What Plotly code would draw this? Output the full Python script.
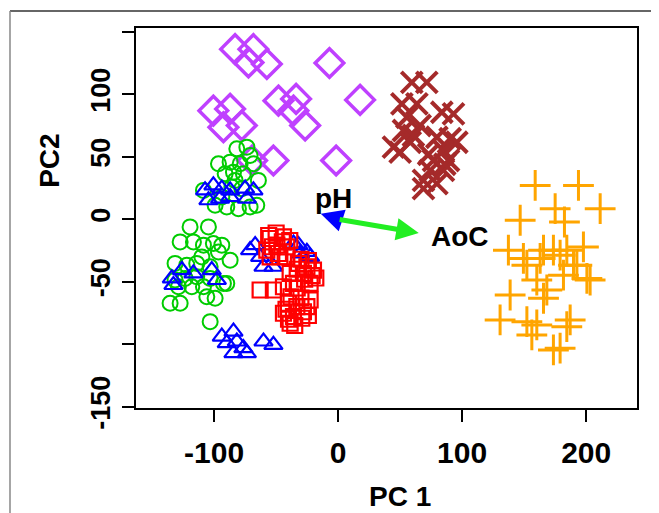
import plotly.graph_objects as go

# ---- data (PC1, PC2 scores per group) ----
purple_x = [-83.1, -68.3, -72.3, -57.5, -7.0, 17.7, -48.1, -33.9, -36.0, -26.6, -100.6, -87.1, -92.5, -77.7, -52.2, -1.6, -69.4]
purple_y = [136.1, 136.1, 125.4, 124.2, 125.0, 95.5, 94.9, 96.3, 86.9, 75.0, 86.9, 88.3, 73.6, 75.0, 47.0, 47.0, 47.0]

brown_x = [59.4, 71.5, 51.4, 63.5, 83.6, 93.0, 55.4, 66.1, 52.7, 79.6, 90.3, 44.6, 58.1, 50.0, 84.9, 76.9, 89.0, 74.2, 84.9, 68.8, 79.6, 68.8, 95.7, 60.7, 73.0, 86.0]
brown_y = [109.5, 109.5, 92.3, 92.3, 85.6, 84.3, 81.6, 75.0, 71.0, 65.6, 64.4, 57.7, 61.6, 53.7, 55.0, 47.0, 47.0, 39.1, 39.1, 31.1, 28.5, 24.5, 61.6, 67.0, 52.0, 44.0]

orange_x = [158.9, 193.8, 175.0, 211.3, 146.8, 182.5, 137.3, 149.4, 165.6, 173.6, 179.0, 184.4, 197.8, 189.8, 200.6, 203.2, 181.7, 152.2, 160.2, 168.3, 165.6, 138.7, 130.6, 152.2, 160.2, 156.2, 187.1, 184.4, 173.6, 179.0, 192.5, 162.9]
orange_y = [27.1, 27.1, 8.5, 8.5, -0.8, -2.2, -24.7, -31.3, -24.7, -24.7, -28.7, -24.7, -22.1, -36.7, -47.3, -48.6, -44.7, -36.7, -48.6, -56.6, -63.2, -60.6, -80.5, -81.9, -84.5, -92.5, -80.5, -85.9, -104.5, -103.1, -36.7, -31.3]

green_x = [-96.5, -87.1, -81.7, -73.6, -71.0, -79.0, -91.1, -84.4, -76.4, -68.3, -64.3, -85.7, -77.7, -108.6, -99.2, -89.8, -80.4, -71.0, -65.6, -93.8, -83.1,
           -119.4, -104.6, -127.4, -116.7, -108.6, -100.6, -93.8, -96.5, -109.9, -87.1, -131.5, -122.0, -114.0, -103.2, -131.5, -123.4, -114.0, -103.2, -92.5,
           -128.8, -118.0, -108.6, -135.5, -127.4, -105.9, -99.2, -103.2, -89.8]
green_y = [44.4, 45.7, 56.4, 57.7, 51.0, 44.4, 36.4, 37.7, 36.4, 44.4, 31.1, 25.8, 24.5, 23.1, 11.2, 9.8, 8.5, 9.8, 11.2, 17.8, 31.1,
           -6.1, -6.1, -18.1, -18.1, -20.7, -19.4, -20.7, -26.1, -30.1, -32.7, -35.3, -36.7, -35.3, -38.0, -48.6, -47.3, -46.0, -47.3, -51.3,
           -54.0, -54.0, -54.0, -67.2, -67.2, -62.0, -63.2, -81.9, -51.3]

blue_x = [-107.3, -100.6, -93.8, -87.1, -75.0, -68.3, -104.6, -95.2, -73.6, -87.1,
          -134.1, -126.0, -116.7, -101.9, -97.8, -132.8,
          -93.8, -84.4, -89.8, -81.7, -76.4, -84.4, -73.6, -60.2, -52.2,
          -71.0, -66.9, -62.9, -32.0, -25.2, -22.6, -60.2, -52.2, -36.0, -30.6]
blue_y = [23.1, 27.1, 24.5, 23.1, 24.5, 23.1, 15.2, 16.5, 16.5, 17.8,
          -47.3, -40.7, -43.3, -40.7, -48.6, -52.6,
          -93.9, -89.9, -99.1, -97.8, -103.1, -107.1, -107.1, -97.8, -100.5,
          -24.7, -20.7, -30.1, -20.7, -26.1, -30.1, -38.0, -38.0, -19.4, -27.4]

red_x = [-54.8, -44.1, -49.4, -41.4, -57.5, -48.1, -54.8, -41.4, -32.0, -25.2, -38.7, -28.0, -19.9, -36.0, -22.6, -62.9, -52.2, -44.1, -40.1, -33.3, -25.2, -44.1, -36.0, -29.3, -38.7, -22.6,
         -56.0, -50.0, -45.0, -53.0, -39.0, -47.0, -30.0, -24.0, -33.0, -21.0, -27.0, -33.0, -18.0, -38.0, -30.0, -42.0, -28.0, -35.0, -24.0, -40.0]
red_y = [-15.4, -14.1, -20.7, -22.1, -24.7, -27.4, -30.1, -30.1, -35.3, -38.0, -43.3, -43.3, -40.7, -51.3, -51.3, -56.6, -56.6, -54.0, -67.2, -69.9, -69.9, -75.2, -77.9, -79.2, -83.2, -64.6,
         -13.0, -11.0, -18.0, -22.0, -17.0, -30.0, -32.0, -33.0, -40.0, -45.0, -48.0, -55.0, -47.0, -62.0, -63.0, -72.0, -74.0, -85.0, -77.0, -80.0]

# loadings arrows
arrow_names = ["pH", "AoC"]
arrow_x = [-14.0, 65.0]
arrow_y = [4.5, -11.0]
arrow_label_x = [-4.0, 98.0]
arrow_label_y = [17.0, -14.0]
arrow_colors = ["#0000FF", "#22EE22"]

x_ticks = [-100, 0, 100, 200]
y_ticks = [-150, -100, -50, 0, 50, 100, 150]
y_ticktext = ["-150", "", "-50", "0", "50", "100", ""]

FONT = "Liberation Sans, Arial, sans-serif"

fig = go.Figure()

def add(xs, ys, symbol, color, size, lw):
    fig.add_trace(go.Scatter(
        x=xs, y=ys, mode="markers",
        marker=dict(symbol=symbol, size=size, color=color,
                    line=dict(color=color, width=lw)),
        showlegend=False, hoverinfo="skip"))

add(purple_x, purple_y, "diamond-open", "#BF40FF", 22, 3.5)
add(brown_x, brown_y, "x-thin-open", "#A52A2A", 21, 4)
add(orange_x, orange_y, "cross-thin-open", "#FFA500", 22, 3)
add(green_x, green_y, "circle-open", "#00CC00", 15, 2)
add(blue_x, blue_y, "triangle-up-open", "#0000FF", 16, 2.2)
add(red_x, red_y, "square-open", "#FF0000", 15, 2.2)

for name, ax_, ay_, lx, ly, c in zip(arrow_names, arrow_x, arrow_y, arrow_label_x, arrow_label_y, arrow_colors):
    fig.add_annotation(x=ax_, y=ay_, ax=0, ay=0, xref="x", yref="y", axref="x", ayref="y",
                       showarrow=True, arrowhead=2, arrowsize=0.9, arrowwidth=5, arrowcolor=c, text="")
    fig.add_annotation(x=lx, y=ly, xref="x", yref="y", text=name, showarrow=False,
                       font=dict(family=FONT, size=28, color="black", weight="bold"))

fig.add_annotation(x=0.527, y=-0.234, xref="paper", yref="paper", text="PC 1", showarrow=False,
                   xanchor="center", yanchor="middle",
                   font=dict(family=FONT, size=28, color="black", weight="bold"))
fig.add_annotation(x=-0.174, y=0.65, xref="paper", yref="paper", text="PC2", showarrow=False, textangle=-90,
                   xanchor="center", yanchor="middle",
                   font=dict(family=FONT, size=28, color="black", weight="bold"))

# outer frame
fig.add_shape(type="line", xref="paper", yref="paper", x0=-0.2515, x1=1.06, y0=1.0447, y1=1.0447,
              line=dict(color="#333333", width=1.5))
fig.add_shape(type="line", xref="paper", yref="paper", x0=-0.2515, x1=-0.2515, y0=1.0447, y1=-0.3,
              line=dict(color="#888888", width=1.5))

axis_common = dict(showgrid=False, zeroline=False, showline=True, linecolor="black", linewidth=2,
                   mirror=True, ticks="outside", ticklen=12, tickwidth=2, tickcolor="black")

fig.update_xaxes(range=[-163, 241], tickvals=x_ticks, ticktext=[str(v) for v in x_ticks],
                 ticklabelstandoff=5,
                 tickfont=dict(family=FONT, size=30, color="black", weight="bold"), **axis_common)
fig.update_yaxes(range=[-151, 153], tickvals=y_ticks, ticktext=y_ticktext, tickangle=-90,
                 ticklabelstandoff=1,
                 tickfont=dict(family=FONT, size=27, color="black", weight="bold"), **axis_common)

# the page adds an 8px body margin, so the figure is 8px smaller and margins shifted
fig.update_layout(width=651, height=505, margin=dict(l=128, r=22, t=20, b=105),
                  plot_bgcolor="white", paper_bgcolor="white")

fig.write_html("out.html")
